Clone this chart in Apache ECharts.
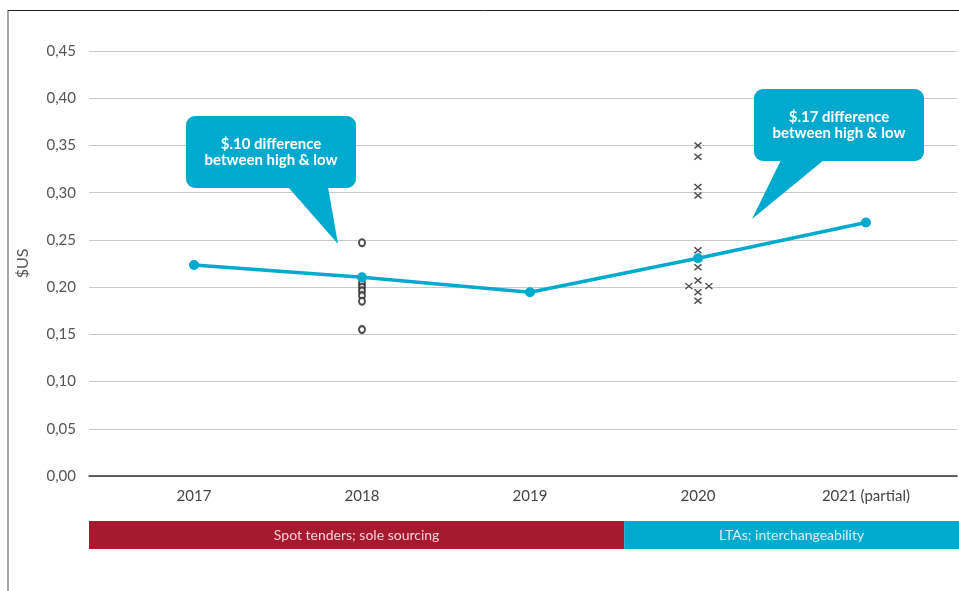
<!DOCTYPE html>
<html>
<head>
<meta charset="utf-8">
<script src="https://cdn.jsdelivr.net/npm/echarts@6/dist/echarts.min.js"></script>
<style>
  html, body { margin: 0; padding: 0; background: #fff; }
  #chart { width: 959px; height: 591px; }
</style>
</head>
<body>
<div id="chart"></div>
<script>
// Average price per year
const years = [2017, 2018, 2019, 2020, 2021];
const yearLabels = ['2017', '2018', '2019', '2020', '2021 (partial)'];
const avgPrice = [0.2235, 0.2105, 0.1945, 0.2305, 0.2685];

// Individual 2018 spot-tender prices (o) and 2020 LTA prices (x): [year position, price]
const spot2018 = [
  [2018, 0.247], [2018, 0.204], [2018, 0.200], [2018, 0.196],
  [2018, 0.191], [2018, 0.185], [2018, 0.155]
];
const lta2020 = [
  [2020, 0.350], [2020, 0.338], [2020, 0.306], [2020, 0.297],
  [2020, 0.239], [2020, 0.221], [2020, 0.207], [2019.946, 0.201],
  [2020.065, 0.201], [2020, 0.1945], [2020, 0.1856]
];

// Procurement periods shown beneath the axis
const periodNames = ['Spot tenders; sole sourcing', 'LTAs; interchangeability'];
const periodStart = [2016.375, 2019.565];
const periodEnd = [2019.565, 2021.56];

const yTicks = { min: 0, max: 0.45, interval: 0.05 };

const BLUE = '#00a9ce';
const RED = '#a6192e';
const FONT = 'Lato, "Noto Sans", sans-serif';

const chart = echarts.init(document.getElementById('chart'));

function callout(box, tip, lines) {
  return {
    type: 'group',
    z: 100,
    children: [
      { type: 'polygon', z: 100, shape: { points: tip }, style: { fill: BLUE } },
      { type: 'rect', z: 100, shape: { x: box[0], y: box[1], width: box[2], height: box[3], r: 9 }, style: { fill: BLUE } },
      {
        type: 'text',
        z: 101,
        x: box[0] + box[2] / 2,
        y: box[1] + box[3] / 2,
        style: {
          text: lines.join('\n'), fill: '#fff', font: 'bold 15px ' + FONT,
          align: 'center', verticalAlign: 'middle', lineHeight: 16
        }
      }
    ]
  };
}

chart.setOption({
  animation: false,
  backgroundColor: '#fff',
  grid: [
    { left: 89, right: 2, top: 51, height: 425 },
    { left: 89, right: 0, top: 521, height: 28 }
  ],
  xAxis: [
    {
      type: 'value', gridIndex: 0, min: periodStart[0], max: 2021.542,
      axisLine: { show: true, lineStyle: { color: '#333', width: 1.5 } },
      axisTick: { show: false },
      splitLine: { show: false },
      axisLabel: {
        customValues: years,
        margin: 13,
        color: '#444',
        fontFamily: FONT,
        fontSize: 15,
        formatter: v => yearLabels[years.indexOf(Math.round(v))] || ''
      }
    },
    {
      type: 'value', gridIndex: 1, min: periodStart[0], max: periodEnd[1],
      show: false
    }
  ],
  yAxis: [
    {
      type: 'value', gridIndex: 0,
      min: yTicks.min, max: yTicks.max, interval: yTicks.interval,
      name: '$US', nameLocation: 'middle', nameGap: 58,
      nameTextStyle: { color: '#555', fontFamily: FONT, fontSize: 16 },
      axisLine: { show: false },
      axisTick: { show: false },
      axisLabel: {
        margin: 13, color: '#555', fontFamily: FONT, fontSize: 15,
        formatter: v => v.toFixed(2).replace('.', ',')
      },
      splitLine: { lineStyle: { color: '#c8c8c8', width: 1 } }
    },
    { type: 'value', gridIndex: 1, min: 0, max: 1, show: false }
  ],
  series: [
    {
      name: 'Spot tenders 2018',
      type: 'scatter', xAxisIndex: 0, yAxisIndex: 0, z: 2,
      data: spot2018,
      symbol: 'emptyCircle', symbolSize: [6, 7],
      itemStyle: { color: '#222', borderWidth: 1.3 }
    },
    {
      name: 'LTAs 2020',
      type: 'scatter', xAxisIndex: 0, yAxisIndex: 0, z: 2,
      data: lta2020,
      symbol: 'path://M0,0L10,10M10,0L0,10', symbolSize: [7, 6],
      itemStyle: { color: 'rgba(0,0,0,0)', borderColor: '#222', borderWidth: 1.4 }
    },
    {
      name: 'Average price',
      type: 'line', xAxisIndex: 0, yAxisIndex: 0, z: 3,
      data: years.map((y, i) => [y, avgPrice[i]]),
      symbol: 'circle', symbolSize: 10,
      lineStyle: { color: BLUE, width: 3.5 },
      itemStyle: { color: BLUE }
    },
    {
      name: 'Periods',
      type: 'custom', xAxisIndex: 1, yAxisIndex: 1,
      data: periodNames.map((n, i) => [periodStart[i], periodEnd[i], i]),
      encode: { x: [0, 1] },
      renderItem: (params, api) => {
        const a = api.coord([api.value(0), 0]);
        const b = api.coord([api.value(1), 1]);
        const i = api.value(2);
        return {
          type: 'rect',
          shape: { x: a[0], y: b[1], width: b[0] - a[0], height: a[1] - b[1] },
          style: { fill: i === 0 ? RED : BLUE },
          textContent: {
            style: {
              text: periodNames[i],
              fill: i === 0 ? 'rgba(255,225,228,0.92)' : 'rgba(225,246,252,0.95)',
              font: '14px ' + FONT
            }
          },
          textConfig: { position: 'inside' }
        };
      }
    }
  ],
  graphic: [
    { type: 'line', shape: { x1: 8, y1: 10, x2: 8, y2: 591 }, style: { stroke: '#888', lineWidth: 1.5 } },
    { type: 'line', shape: { x1: 8, y1: 10.5, x2: 959, y2: 10.5 }, style: { stroke: '#222', lineWidth: 1 } },
    callout([186, 116, 170, 72], [[288, 187], [328, 187], [338, 244]],
      ['$.10 difference', 'between high & low']),
    callout([754, 89, 170, 72], [[781, 160], [824, 160], [752, 219]],
      ['$.17 difference', 'between high & low'])
  ]
});
</script>
</body>
</html>
